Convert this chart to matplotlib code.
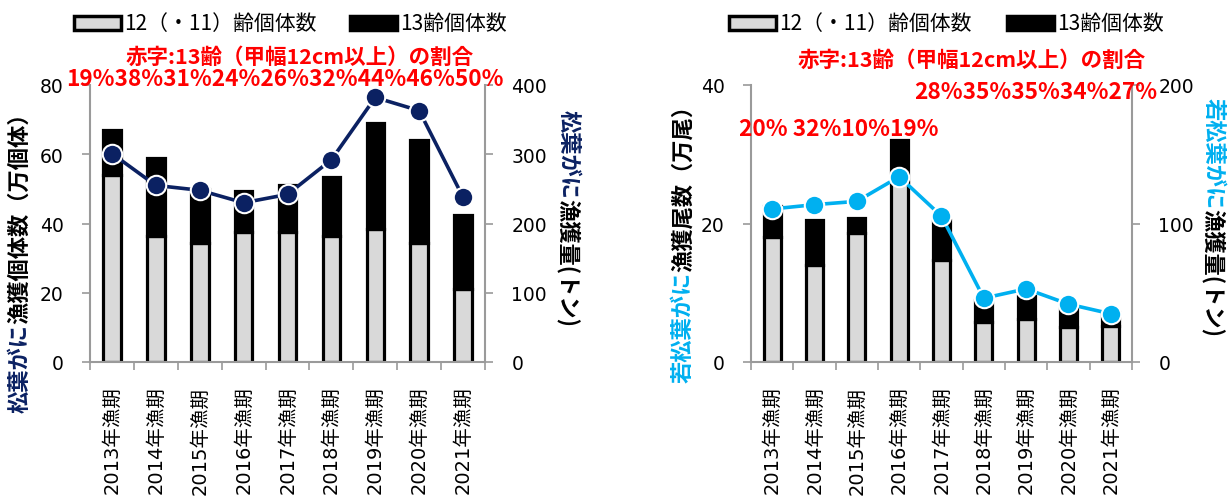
import matplotlib
matplotlib.use("Agg")
import matplotlib.pyplot as plt
from matplotlib.patches import Rectangle
import numpy as np

plt.rcParams['font.family'] = ['DejaVu Sans', 'Noto Sans CJK JP']

W, H = 1231, 502

seasons = ["2013年漁期", "2014年漁期", "2015年漁期", "2016年漁期", "2017年漁期",
           "2018年漁期", "2019年漁期", "2020年漁期", "2021年漁期"]

# 松葉がに: 漁獲個体数(万個体) と 漁獲量(トン)
matsuba_12 = [54, 36.5, 34.5, 37.5, 37.5, 36.5, 38.5, 34.5, 21]
matsuba_13 = [13, 22.5, 15.5, 12, 13.5, 17, 30.5, 29.5, 21.5]
matsuba_catch = [301, 255, 248, 230, 242, 292, 382, 363, 238]
matsuba_pct = [19, 38, 31, 24, 26, 32, 44, 46, 50]

# 若松葉がに: 漁獲尾数(万尾) と 漁獲量(トン)
waka_12 = [18, 14, 18.7, 26, 14.8, 5.8, 6.2, 5.1, 5.25]
waka_13 = [4.5, 6.5, 2.1, 6, 5.7, 3.2, 3.3, 2.7, 1.95]
waka_catch = [110.5, 113.6, 116, 133.8, 105.3, 46.1, 52.8, 41.8, 34.8]
waka_pct = [20, 32, 10, 19, 28, 35, 35, 34, 27]

NAVY = "#0B2162"
BLUE = "#00B0F0"
LIGHT = "#D9D9D9"
GRAY = "#9A9A9A"
JP = ['Noto Sans CJK JP']

fig = plt.figure(figsize=(W / 100, H / 100), dpi=100)


def px(x, y):
    # pixel position (from top-left) -> figure fraction
    return x / W, (H - y) / H


def panel(left, right, n12, n13, catch, ymax, y2max, y2step, color):
    ax = fig.add_axes([left / W, (H - 363) / H, (right - left) / W, 277 / H])
    x = np.arange(len(seasons))
    ax.bar(x, n12, width=0.4, color=LIGHT, edgecolor="black", linewidth=2.3, zorder=2)
    ax.bar(x, n13, bottom=n12, width=0.4, color="black", edgecolor="black",
           linewidth=2.3, zorder=2)
    ax.set_xlim(-0.5, len(seasons) - 0.5)
    ax.set_ylim(0, ymax)
    ax.set_yticks(np.arange(0, ymax + 1, 20))
    ax.set_xticks(x)
    ax.set_xticklabels(seasons, rotation=90, fontsize=14)
    ax.set_xticks(np.arange(-0.5, len(seasons), 1), minor=True)
    ax.tick_params(axis="x", which="major", length=0, pad=17)
    ax.tick_params(axis="x", which="minor", length=6, color=GRAY, width=1.2)
    ax.tick_params(axis="y", length=6, color=GRAY, width=1.2, labelsize=13.5, pad=13)
    for s in ("top", "right"):
        ax.spines[s].set_visible(False)
    for s in ("left", "bottom"):
        ax.spines[s].set_color(GRAY)
        ax.spines[s].set_linewidth(1.5)

    ax2 = ax.twinx()
    ax2.plot(x, catch, color=color, lw=2.6, marker="o", markersize=14,
             markerfacecolor=color, markeredgecolor="white", markeredgewidth=1.5,
             zorder=3)
    ax2.set_ylim(0, y2max)
    ax2.set_yticks(np.arange(0, y2max + 1, y2step))
    ax2.tick_params(axis="y", length=6, color=GRAY, width=1.2, labelsize=13.5, pad=13)
    for s in ("top", "left", "bottom"):
        ax2.spines[s].set_visible(False)
    ax2.spines["right"].set_color(GRAY)
    ax2.spines["right"].set_linewidth(1.5)
    return ax, ax2


panel(90, 485, matsuba_12, matsuba_13, matsuba_catch, 80, 400, 100, NAVY)
panel(751, 1132, waka_12, waka_13, waka_catch, 40, 200, 100, BLUE)

renderer = fig.canvas.get_renderer()


def two_tone(x, y, parts, rotation, size=16):
    # draws a rotated label whose pieces have different colours
    pos = y / H
    for s, c in parts:
        if rotation == 90:
            t = fig.text(x / W, pos, s, rotation=90, ha="center", va="bottom",
                         color=c, fontsize=size, fontweight="bold", family=JP)
            pos = t.get_window_extent(renderer).y1 / H
        else:
            t = fig.text(x / W, pos, s, rotation=-90, ha="center", va="top",
                         color=c, fontsize=size, fontweight="bold", family=JP)
            pos = t.get_window_extent(renderer).y0 / H


two_tone(20, H - 413, [("松葉がに", NAVY), ("漁獲個体数（万個体）", "black")], 90)
two_tone(568, H - 110, [("松葉がに", NAVY), ("漁獲量(トン)", "black")], -90)
two_tone(683, H - 383, [("若松葉がに", BLUE), ("漁獲尾数（万尾）", "black")], 90)
two_tone(1213, H - 98, [("若松葉がに", BLUE), ("漁獲量(トン)", "black")], -90)


def legend(x0, x1):
    fig.add_artist(Rectangle(px(x0, 31), 47 / W, 14 / H, transform=fig.transFigure,
                             facecolor=LIGHT, edgecolor="black", lw=2.5))
    fig.text(*px(x0 + 50, 24), "12（・11）齢個体数", fontsize=15, family=JP, va="center")
    fig.add_artist(Rectangle(px(x1, 31), 47 / W, 14 / H, transform=fig.transFigure,
                             facecolor="black", edgecolor="black", lw=2.5))
    fig.text(*px(x1 + 50, 24), "13齢個体数", fontsize=15, family=JP, va="center")


legend(74, 350)
legend(729, 1007)

note = "赤字:13齢（甲幅12cm以上）の割合"
red = dict(color="red", fontweight="bold", family=JP, ha="center", va="center")
fig.text(*px(300, 57), note, fontsize=15.5, **red)
fig.text(*px(972, 60), note, fontsize=15.5, **red)

fig.text(*px(285, 79), "".join(f"{p}%" for p in matsuba_pct), fontsize=16.3, **red)
fig.text(*px(839, 130), f"{waka_pct[0]}% " +
         "".join(f"{p}%" for p in waka_pct[1:4]), fontsize=16.3, **red)
fig.text(*px(1036, 93), "".join(f"{p}%" for p in waka_pct[4:]), fontsize=16.3, **red)

fig.savefig("out.png", dpi=100)
